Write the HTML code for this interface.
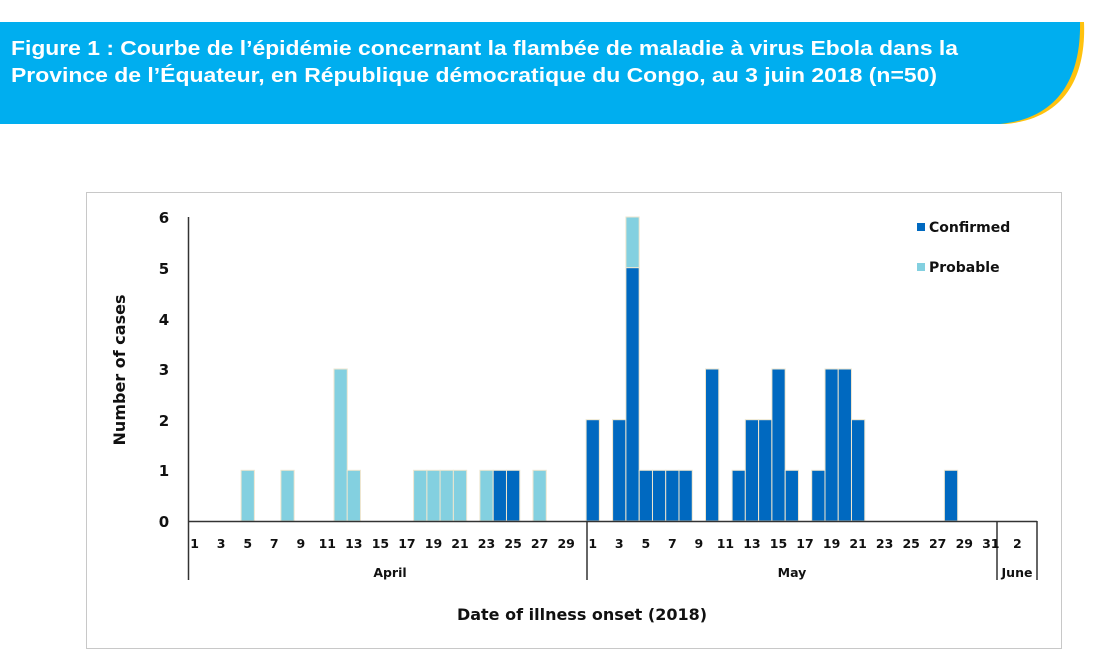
<!DOCTYPE html>
<html><head><meta charset="utf-8"><style>
html,body{margin:0;padding:0;background:#fff;}
body{width:1102px;height:671px;overflow:hidden;position:relative;font-family:"Liberation Sans",sans-serif;}
</style></head><body>
<svg width="1102" height="671" xmlns="http://www.w3.org/2000/svg" style="position:absolute;left:0;top:0">
<path d="M0 22 H1084 C1086 70 1070 118 1006 124 H0 Z" fill="#FFC20E"/>
<path d="M0 22 H1080 C1081 70 1064 118 1000 124 H0 Z" fill="#00AEEF"/>
<text x="11" y="55" font-family="Liberation Sans, sans-serif" font-weight="bold" font-size="20.5" fill="#fff" textLength="947" lengthAdjust="spacingAndGlyphs">Figure 1 : Courbe de l’épidémie concernant la flambée de maladie à virus Ebola dans la</text>
<text x="11" y="82" font-family="Liberation Sans, sans-serif" font-weight="bold" font-size="20.5" fill="#fff" textLength="926" lengthAdjust="spacingAndGlyphs">Province de l’Équateur, en République démocratique du Congo, au 3 juin 2018 (n=50)</text>
<rect x="86.5" y="192.5" width="975" height="456" fill="#fff" stroke="#c8c8c8"/>
<g font-family="DejaVu Sans, sans-serif" font-weight="bold" fill="#111">
<g font-size="15" text-anchor="middle">
<text x="164" y="223">6</text><text x="164" y="274">5</text><text x="164" y="325">4</text><text x="164" y="375">3</text><text x="164" y="426">2</text><text x="164" y="476">1</text><text x="164" y="527">0</text>
</g>
<text transform="translate(125,370) rotate(-90)" font-size="16" text-anchor="middle">Number of cases</text>
<g stroke="#ede6cf" stroke-width="1">
<g fill="#83D0E0">
<rect x="241.1" y="470.3" width="13.27" height="50.7"/>
<rect x="280.9" y="470.3" width="13.27" height="50.7"/>
<rect x="334.0" y="369.0" width="13.27" height="152"/>
<rect x="347.2" y="470.3" width="13.27" height="50.7"/>
<rect x="413.6" y="470.3" width="13.27" height="50.7"/>
<rect x="426.9" y="470.3" width="13.27" height="50.7"/>
<rect x="440.1" y="470.3" width="13.27" height="50.7"/>
<rect x="453.4" y="470.3" width="13.27" height="50.7"/>
<rect x="479.9" y="470.3" width="13.27" height="50.7"/>
<rect x="533.0" y="470.3" width="13.27" height="50.7"/>
<rect x="625.9" y="217.0" width="13.27" height="50.7"/>
</g>
<g fill="#0069C0">
<rect x="493.2" y="470.3" width="13.27" height="50.7"/>
<rect x="506.5" y="470.3" width="13.27" height="50.7"/>
<rect x="586.1" y="419.7" width="13.27" height="101.3"/>
<rect x="612.6" y="419.7" width="13.27" height="101.3"/>
<rect x="625.9" y="267.7" width="13.27" height="253.3"/>
<rect x="639.2" y="470.3" width="13.27" height="50.7"/>
<rect x="652.5" y="470.3" width="13.27" height="50.7"/>
<rect x="665.7" y="470.3" width="13.27" height="50.7"/>
<rect x="679.0" y="470.3" width="13.27" height="50.7"/>
<rect x="705.5" y="369.0" width="13.27" height="152"/>
<rect x="732.1" y="470.3" width="13.27" height="50.7"/>
<rect x="745.3" y="419.7" width="13.27" height="101.3"/>
<rect x="758.6" y="419.7" width="13.27" height="101.3"/>
<rect x="771.9" y="369.0" width="13.27" height="152"/>
<rect x="785.2" y="470.3" width="13.27" height="50.7"/>
<rect x="811.7" y="470.3" width="13.27" height="50.7"/>
<rect x="825.0" y="369.0" width="13.27" height="152"/>
<rect x="838.2" y="369.0" width="13.27" height="152"/>
<rect x="851.5" y="419.7" width="13.27" height="101.3"/>
<rect x="944.4" y="470.3" width="13.27" height="50.7"/>
</g>
</g>
<g stroke="#333" stroke-width="1.5" fill="none">
<line x1="188.5" y1="217" x2="188.5" y2="580"/>
<line x1="188" y1="521.5" x2="1037" y2="521.5"/>
<line x1="587" y1="521" x2="587" y2="580"/>
<line x1="997" y1="521" x2="997" y2="580"/>
<line x1="1037" y1="521" x2="1037" y2="580"/>
</g>
<g font-size="12.5" text-anchor="middle">
<text x="194.6" y="548">1</text><text x="221.1" y="548">3</text><text x="247.7" y="548">5</text><text x="274.2" y="548">7</text><text x="300.8" y="548">9</text><text x="327.3" y="548">11</text><text x="353.8" y="548">13</text><text x="380.4" y="548">15</text><text x="406.9" y="548">17</text><text x="433.5" y="548">19</text><text x="460.0" y="548">21</text><text x="486.5" y="548">23</text><text x="513.1" y="548">25</text><text x="539.6" y="548">27</text><text x="566.2" y="548">29</text>
<text x="592.7" y="548">1</text><text x="619.2" y="548">3</text><text x="645.8" y="548">5</text><text x="672.3" y="548">7</text><text x="698.9" y="548">9</text><text x="725.4" y="548">11</text><text x="751.9" y="548">13</text><text x="778.5" y="548">15</text><text x="805.0" y="548">17</text><text x="831.6" y="548">19</text><text x="858.1" y="548">21</text><text x="884.6" y="548">23</text><text x="911.2" y="548">25</text><text x="937.7" y="548">27</text><text x="964.3" y="548">29</text><text x="990.8" y="548">31</text><text x="1017.3" y="548">2</text>
<text x="390" y="577">April</text><text x="792" y="577">May</text><text x="1017" y="577">June</text>
</g>
<text x="582" y="620" font-size="16" text-anchor="middle">Date of illness onset (2018)</text>
<rect x="917" y="223" width="8" height="8" fill="#0069C0"/>
<text x="929" y="232" font-size="14">Confirmed</text>
<rect x="917" y="263" width="8" height="8" fill="#83D0E0"/>
<text x="929" y="272" font-size="14">Probable</text>
</g>
</svg>
</body></html>
